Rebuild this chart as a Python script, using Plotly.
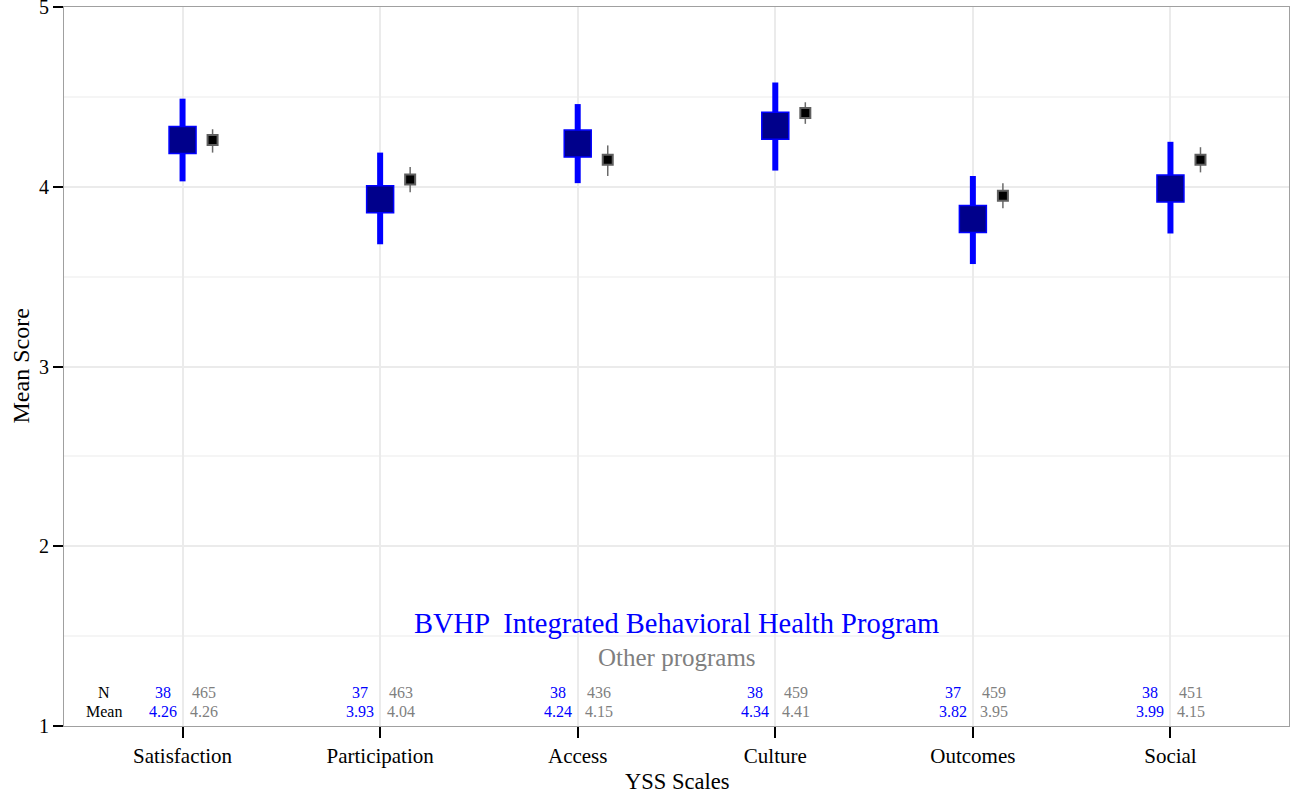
import plotly.graph_objects as go

categories = ["Satisfaction", "Participation", "Access", "Culture", "Outcomes", "Social"]

# BVHP program
bvhp_n = [38, 37, 38, 38, 37, 38]
bvhp_mean = [4.26, 3.93, 4.24, 4.34, 3.82, 3.99]
bvhp_lo = [4.03, 3.68, 4.02, 4.09, 3.57, 3.74]
bvhp_hi = [4.49, 4.19, 4.46, 4.58, 4.06, 4.25]

# Other programs
other_n = [465, 463, 436, 459, 459, 451]
other_mean = [4.26, 4.04, 4.15, 4.41, 3.95, 4.15]
other_lo = [4.19, 3.97, 4.06, 4.35, 3.88, 4.08]
other_hi = [4.32, 4.11, 4.23, 4.47, 4.02, 4.22]

y_ticks = [1, 2, 3, 4, 5]

FONT = "Liberation Serif"
BLUE = "#0000FF"
GRAY = "#7F7F7F"
OFFSET = 0.152

xs = list(range(1, len(categories) + 1))

fig = go.Figure()

fig.add_trace(go.Scatter(
    x=xs, y=bvhp_mean, mode="markers",
    marker=dict(symbol="square", size=27, color="#00008B", line=dict(color=BLUE, width=1.5)),
    error_y=dict(type="data", symmetric=False,
                 array=[h - m for h, m in zip(bvhp_hi, bvhp_mean)],
                 arrayminus=[m - l for m, l in zip(bvhp_mean, bvhp_lo)],
                 color=BLUE, thickness=6, width=0),
    showlegend=False, hoverinfo="skip",
))

fig.add_trace(go.Scatter(
    x=[x + OFFSET for x in xs], y=other_mean, mode="markers",
    marker=dict(symbol="square", size=10, color="#000000", line=dict(color="#606060", width=2)),
    error_y=dict(type="data", symmetric=False,
                 array=[h - m for h, m in zip(other_hi, other_mean)],
                 arrayminus=[m - l for m, l in zip(other_mean, other_lo)],
                 color="#6A6A6A", thickness=1.5, width=0),
    showlegend=False, hoverinfo="skip",
))

ann = []
Y_N = 1.189
Y_M = 1.083
NS = 16
ann.append(dict(x=0.603, y=Y_N, xref="x", yref="y", text="N", showarrow=False,
                font=dict(family=FONT, size=NS, color="#000000"), xanchor="center", yanchor="middle"))
ann.append(dict(x=0.603, y=Y_M, xref="x", yref="y", text="Mean", showarrow=False,
                font=dict(family=FONT, size=NS, color="#000000"), xanchor="center", yanchor="middle"))
for i, x in enumerate(xs):
    ann.append(dict(x=x, y=Y_N, xref="x", yref="y", text=str(bvhp_n[i]), showarrow=False,
                    xanchor="center", yanchor="middle", xshift=-20,
                    font=dict(family=FONT, size=NS, color=BLUE)))
    ann.append(dict(x=x, y=Y_M, xref="x", yref="y", text=f"{bvhp_mean[i]:.2f}", showarrow=False,
                    xanchor="center", yanchor="middle", xshift=-20,
                    font=dict(family=FONT, size=NS, color=BLUE)))
    ann.append(dict(x=x, y=Y_N, xref="x", yref="y", text=str(other_n[i]), showarrow=False,
                    xanchor="center", yanchor="middle", xshift=21,
                    font=dict(family=FONT, size=NS, color=GRAY)))
    ann.append(dict(x=x, y=Y_M, xref="x", yref="y", text=f"{other_mean[i]:.2f}", showarrow=False,
                    xanchor="center", yanchor="middle", xshift=21,
                    font=dict(family=FONT, size=NS, color=GRAY)))

ann.append(dict(x=0.5, y=1.57, xref="paper", yref="y", text="BVHP  Integrated Behavioral Health Program",
                showarrow=False, xanchor="center", yanchor="middle",
                font=dict(family=FONT, size=28.5, color=BLUE)))
ann.append(dict(x=0.5, y=1.38, xref="paper", yref="y", text="Other programs",
                showarrow=False, xanchor="center", yanchor="middle",
                font=dict(family=FONT, size=25, color=GRAY)))

# axis titles
ann.append(dict(x=0.5, y=0, xref="paper", yref="paper", text="YSS Scales", showarrow=False,
                xanchor="center", yanchor="middle", yshift=-55,
                font=dict(family=FONT, size=22.5, color="#000000")))
ann.append(dict(x=0, y=0.5, xref="paper", yref="paper", text="Mean Score", showarrow=False,
                xanchor="center", yanchor="middle", xshift=-44, textangle=-90,
                font=dict(family=FONT, size=24, color="#000000")))

fig.update_layout(
    width=1291, height=799,
    margin=dict(l=64, r=2, t=7, b=73),
    paper_bgcolor="white", plot_bgcolor="white",
    font=dict(family=FONT, color="#000000"),
    annotations=ann,
    xaxis=dict(
        range=[0.4, 6.6], tickmode="array", tickvals=xs, ticktext=categories,
        showgrid=True, gridcolor="#EBEBEB", gridwidth=2, zeroline=False,
        ticks="outside", ticklen=11, tickwidth=2, tickcolor="#000000",
        tickfont=dict(family=FONT, size=21, color="#000000"),
        showline=True, linecolor="#A0A0A0", linewidth=1, mirror=True,
        automargin=False, ticklabeloverflow="allow",
    ),
    yaxis=dict(
        range=[1, 5], tickmode="array", tickvals=y_ticks, ticktext=[str(v) for v in y_ticks],
        showgrid=True, gridcolor="#EBEBEB", gridwidth=2, zeroline=False,
        minor=dict(dtick=0.5, showgrid=True, gridcolor="#F5F5F5", gridwidth=1.5, ticks=""),
        ticks="outside", ticklen=10, tickwidth=2, tickcolor="#000000",
        tickfont=dict(family=FONT, size=20, color="#000000"),
        showline=True, linecolor="#A0A0A0", linewidth=1, mirror=True,
        automargin=False, ticklabeloverflow="allow",
    ),
)

fig.write_html(
    "out.html",
    config={"displayModeBar": False},
    post_script="document.body.style.margin='0';document.body.style.padding='0';document.body.style.overflow='hidden';",
)
